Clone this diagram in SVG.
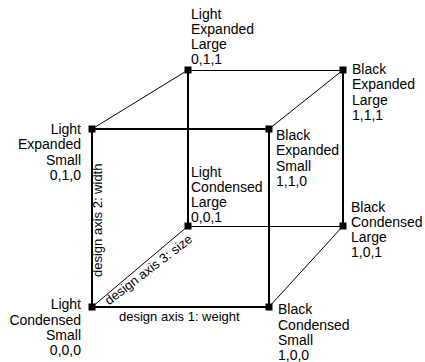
<svg xmlns="http://www.w3.org/2000/svg" width="425" height="362" viewBox="0 0 425 362">
<style>
.bg{fill:#ffffff}
.thick{stroke:#000;stroke-width:2;fill:none}
.thin{stroke:#000;stroke-width:1;fill:none}
.node{fill:#000}
.lbl{font-family:"Liberation Sans",Arial,Helvetica,sans-serif;font-size:14px;fill:#000}
.end{text-anchor:end}
.axis{font-family:"Liberation Sans",Arial,Helvetica,sans-serif;font-size:13px;fill:#000}
</style>
<rect class="bg" x="0" y="0" width="425" height="362"/>
<g id="connectors">
  <line class="thin" x1="188" y1="70.5" x2="343" y2="70.5"/>
  <line class="thin" x1="188" y1="226.5" x2="343" y2="226.5"/>
  <line class="thick" x1="188" y1="70" x2="188" y2="226"/>
  <line class="thick" x1="343" y1="70" x2="343" y2="226"/>
  <line class="thin" x1="92" y1="129" x2="188" y2="70"/>
  <line class="thin" x1="269" y1="129" x2="343" y2="70"/>
  <line class="thin" x1="92" y1="307" x2="188" y2="226"/>
  <line class="thin" x1="269" y1="307" x2="343" y2="226"/>
  <line class="thick" x1="92" y1="129" x2="269" y2="129"/>
  <line class="thick" x1="92" y1="307" x2="269" y2="307"/>
  <line class="thick" x1="92" y1="129" x2="92" y2="307"/>
  <line class="thick" x1="269" y1="129" x2="269" y2="307"/>
  <text class="axis" x="119" y="321">design axis 1: weight</text>
  <text class="axis" transform="translate(102,277) rotate(-90)">design axis 2: width</text>
  <text class="axis" transform="translate(109,305.5) rotate(-37.5)">design axis 3: size</text>
</g>
<g id="node-lcs">
  <rect class="node" x="88.5" y="303.5" width="7" height="7"/>
  <text class="lbl end" y="309.3"><tspan x="81">Light</tspan><tspan x="81" dy="15.3">Condensed</tspan><tspan x="81" dy="15.3">Small</tspan><tspan x="81" dy="15.3">0,0,0</tspan></text>
</g>
<g id="node-les">
  <rect class="node" x="88.5" y="125.5" width="7" height="7"/>
  <text class="lbl end" y="134"><tspan x="81">Light</tspan><tspan x="81" dy="15.3">Expanded</tspan><tspan x="81" dy="15.3">Small</tspan><tspan x="81" dy="15.3">0,1,0</tspan></text>
</g>
<g id="node-bcs">
  <rect class="node" x="265.5" y="303.5" width="7" height="7"/>
  <text class="lbl" y="314.3"><tspan x="278">Black</tspan><tspan x="278" dy="15.3">Condensed</tspan><tspan x="278" dy="15.3">Small</tspan><tspan x="278" dy="15.3">1,0,0</tspan></text>
</g>
<g id="node-bes">
  <rect class="node" x="265.5" y="125.5" width="7" height="7"/>
  <text class="lbl" y="140"><tspan x="276">Black</tspan><tspan x="276" dy="15.3">Expanded</tspan><tspan x="276" dy="15.3">Small</tspan><tspan x="276" dy="15.3">1,1,0</tspan></text>
</g>
<g id="node-lcl">
  <rect class="node" x="184.5" y="222.5" width="7" height="7"/>
  <text class="lbl" y="176.5"><tspan x="191">Light</tspan><tspan x="191" dy="15.3">Condensed</tspan><tspan x="191" dy="15.3">Large</tspan><tspan x="191" dy="15.3">0,0,1</tspan></text>
</g>
<g id="node-lel">
  <rect class="node" x="184.5" y="66.5" width="7" height="7"/>
  <text class="lbl" y="18.5"><tspan x="191">Light</tspan><tspan x="191" dy="15.3">Expanded</tspan><tspan x="191" dy="15.3">Large</tspan><tspan x="191" dy="15.3">0,1,1</tspan></text>
</g>
<g id="node-bcl">
  <rect class="node" x="339.5" y="222.5" width="7" height="7"/>
  <text class="lbl" y="211.5"><tspan x="351">Black</tspan><tspan x="351" dy="15.3">Condensed</tspan><tspan x="351" dy="15.3">Large</tspan><tspan x="351" dy="15.3">1,0,1</tspan></text>
</g>
<g id="node-bel">
  <rect class="node" x="339.5" y="66.5" width="7" height="7"/>
  <text class="lbl" y="74"><tspan x="352">Black</tspan><tspan x="352" dy="15.3">Expanded</tspan><tspan x="352" dy="15.3">Large</tspan><tspan x="352" dy="15.3">1,1,1</tspan></text>
</g>
</svg>
